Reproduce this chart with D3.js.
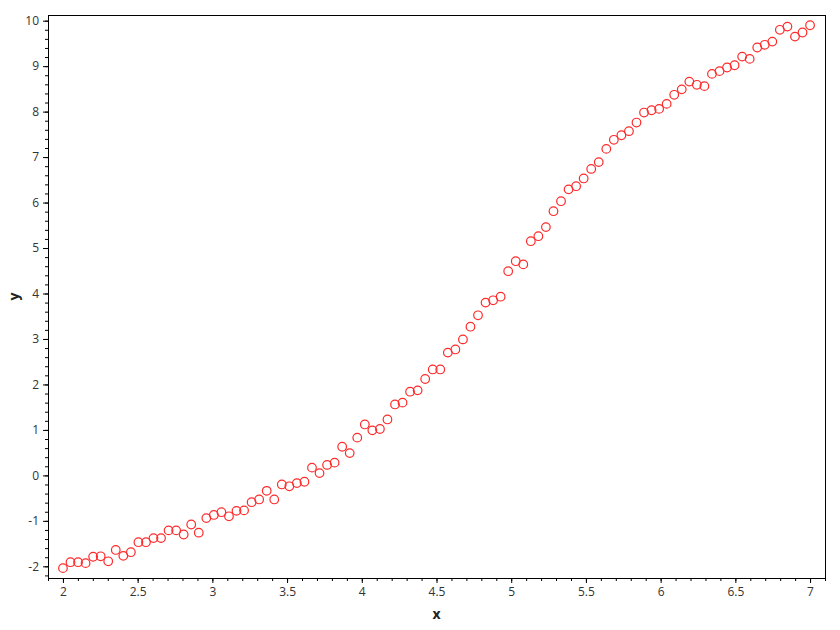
<!DOCTYPE html>
<html>
<head>
<meta charset="utf-8">
<title>x vs y</title>
<script src="https://d3js.org/d3.v7.min.js"></script>
<style>
  body { margin: 0; background: #fff; }
  .tick text { font-family: "Open Sans", "Noto Sans", sans-serif; font-size: 12px; fill: #333; }
  .axis-title { font-family: "Open Sans", "Noto Sans", sans-serif; font-size: 14px; font-weight: bold; fill: #222; }
</style>
</head>
<body>
<svg id="chart" width="840" height="630"></svg>
<script>
// 100 samples, x evenly spaced from 2 to 7
var xStart = 2, xEnd = 7, nPoints = 100;

// y values
var yValues = [
  -2.04, -1.91, -1.91, -1.93, -1.79, -1.78, -1.89, -1.64, -1.77, -1.69,
  -1.47, -1.47, -1.38, -1.38, -1.21, -1.21, -1.30, -1.08, -1.26, -0.94,
  -0.87, -0.81, -0.90, -0.78, -0.77, -0.59, -0.53, -0.34, -0.53, -0.20,
  -0.24, -0.17, -0.14,  0.17,  0.05,  0.23,  0.28,  0.63,  0.49,  0.83,
   1.12,  0.99,  1.02,  1.23,  1.56,  1.60,  1.84,  1.87,  2.12,  2.33,
   2.33,  2.70,  2.77,  2.99,  3.27,  3.52,  3.80,  3.85,  3.93,  4.49,
   4.71,  4.64,  5.15,  5.26,  5.46,  5.81,  6.03,  6.29,  6.36,  6.53,
   6.74,  6.89,  7.18,  7.38,  7.48,  7.57,  7.76,  7.98,  8.03,  8.06,
   8.17,  8.37,  8.49,  8.66,  8.59,  8.56,  8.83,  8.89,  8.97,  9.02,
   9.21,  9.16,  9.41,  9.47,  9.54,  9.80,  9.87,  9.65,  9.74,  9.90
];

var xTicks = [2, 2.5, 3, 3.5, 4, 4.5, 5, 5.5, 6, 6.5, 7];
var yTicks = [-2, -1, 0, 1, 2, 3, 4, 5, 6, 7, 8, 9, 10];

var points = yValues.map(function(v, i) {
  return { x: xStart + (xEnd - xStart) * i / (nPoints - 1), y: v };
});

// plot box (note: "top" is taken by window.top, so use other names)
var plotLeft = 48, plotRight = 825, plotTop = 15, plotBottom = 578;

var x = d3.scaleLinear().domain([1.9, 7.1]).range([plotLeft, plotRight]);
var y = d3.scaleLinear().domain([-2.257, 10.125]).range([plotBottom, plotTop]);

var svg = d3.select("#chart");

// minor ticks first, major on top
var xMinor = d3.range(19, 72).map(function(d) { return d / 10; });
var yMinor = d3.range(-11, 51).map(function(d) { return d / 5; });

svg.append("g")
  .attr("transform", "translate(0," + plotBottom + ")")
  .call(d3.axisBottom(x).tickValues(xMinor).tickSize(3).tickFormat(""))
  .call(function(g) { g.select(".domain").remove(); });

svg.append("g")
  .attr("transform", "translate(" + plotLeft + ",0)")
  .call(d3.axisLeft(y).tickValues(yMinor).tickSize(3).tickFormat(""))
  .call(function(g) { g.select(".domain").remove(); });

svg.append("g")
  .attr("transform", "translate(0," + plotBottom + ")")
  .call(d3.axisBottom(x).tickValues(xTicks).tickSize(5).tickPadding(4).tickFormat(d3.format("")))
  .call(function(g) { g.select(".domain").remove(); });

svg.append("g")
  .attr("transform", "translate(" + plotLeft + ",0)")
  .call(d3.axisLeft(y).tickValues(yTicks).tickSize(5).tickPadding(4).tickFormat(d3.format("")))
  .call(function(g) { g.select(".domain").remove(); });

svg.selectAll(".tick text").text(function() {
  return d3.select(this).text().replace("\u2212", "-");
});

// plot frame
svg.append("rect")
  .attr("x", plotLeft + 0.5)
  .attr("y", plotTop + 0.5)
  .attr("width", plotRight - plotLeft)
  .attr("height", plotBottom - plotTop)
  .attr("fill", "none")
  .attr("stroke", "#000")
  .attr("stroke-width", 1);

// markers
svg.append("g")
  .selectAll("circle")
  .data(points)
  .join("circle")
  .attr("cx", function(d) { return x(d.x); })
  .attr("cy", function(d) { return y(d.y); })
  .attr("r", 4.3)
  .attr("fill", "none")
  .attr("stroke", "#ff2a2a")
  .attr("stroke-width", 1.2);

// axis titles
svg.append("text")
  .attr("class", "axis-title")
  .attr("x", (plotLeft + plotRight) / 2)
  .attr("y", 619)
  .attr("text-anchor", "middle")
  .text("x");

svg.append("text")
  .attr("class", "axis-title")
  .attr("transform", "translate(19," + (plotTop + plotBottom) / 2 + ") rotate(-90)")
  .attr("text-anchor", "middle")
  .text("y");
</script>
</body>
</html>
